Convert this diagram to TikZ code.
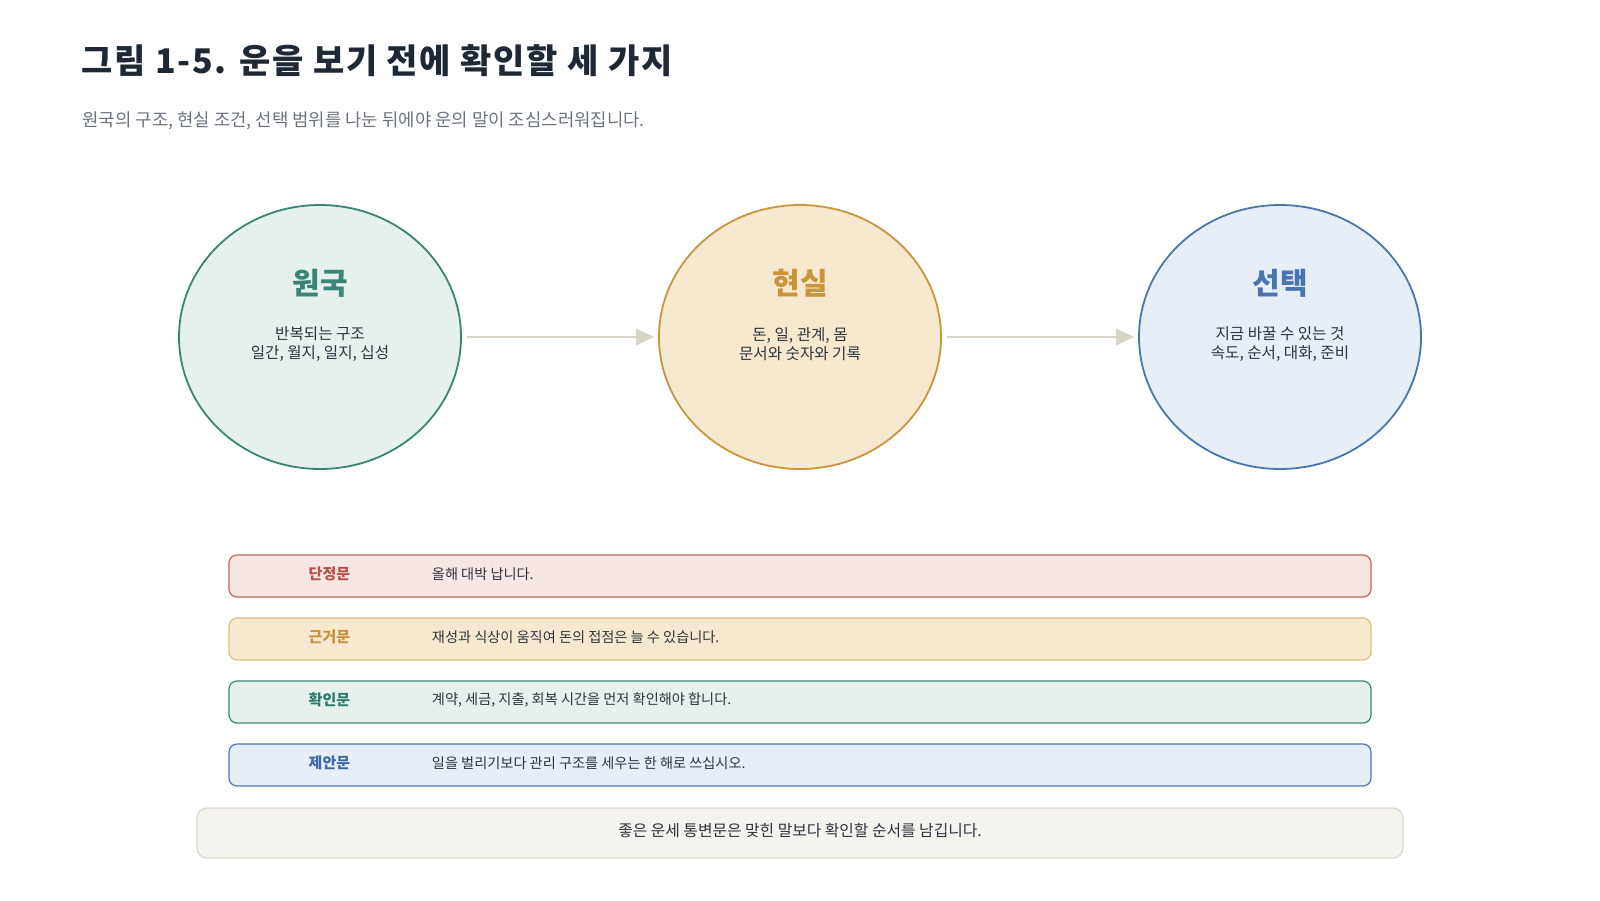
\documentclass[tikz,border=0pt]{standalone}
\usepackage{fontspec}
\setmainfont{Noto Sans CJK KR}
\usetikzlibrary{shapes.geometric,arrows.meta}
\definecolor{ink}{HTML}{2E3540}
\definecolor{headink}{HTML}{1F2935}
\definecolor{subink}{HTML}{6B7380}
\definecolor{arrowgray}{HTML}{D9D2C6}
\definecolor{lngreen}{HTML}{3B8478}
\definecolor{flgreen}{HTML}{E6F0EC}
\definecolor{txgreen}{HTML}{2F7A6E}
\definecolor{lngold}{HTML}{C9943A}
\definecolor{flgold}{HTML}{F6E9D0}
\definecolor{txgold}{HTML}{C8913A}
\definecolor{lnblue}{HTML}{4A76B0}
\definecolor{flblue}{HTML}{E8EEF7}
\definecolor{txblue}{HTML}{3C6AA8}
\definecolor{lnred}{HTML}{C0675C}
\definecolor{flred}{HTML}{F6E6E4}
\definecolor{txred}{HTML}{B5524A}
\definecolor{lnbargold}{HTML}{E2BD7E}
\definecolor{lnnote}{HTML}{DDD7CB}
\definecolor{flnote}{HTML}{F5F3EE}

\begin{document}
\begin{tikzpicture}[x=1pt,y=-1pt,
  bubble/.style={ellipse,minimum width=282pt,minimum height=264pt,inner sep=0pt,line width=1.8pt},
  bubhead/.style={font=\fontsize{30pt}{34pt}\selectfont\bfseries},
  bubnote/.style={align=center,text=ink,font=\fontsize{15.6pt}{19pt}\selectfont},
  flow/.style={draw=arrowgray,line width=1.2pt,-{Triangle[length=18pt,width=16.5pt]},shorten <=5pt,shorten >=4pt},
  stmt/.style={rectangle,rounded corners=8pt,minimum width=1142pt,minimum height=42pt,line width=1.2pt,inner sep=0pt},
  stmtlab/.style={font=\fontsize{15pt}{18pt}\selectfont\bfseries},
  stmttxt/.style={anchor=west,text=ink,font=\fontsize{14.2pt}{17pt}\selectfont},
  ]
\useasboundingbox (0,0) rectangle (1600,900);
\node[anchor=west,text=headink,font=\fontsize{34pt}{40pt}\selectfont\bfseries\addfontfeature{LetterSpace=5}] (title) at (78,61) {그림 1-5. 운을 보기 전에 확인할 세 가지};
\node[anchor=west,text=subink,font=\fontsize{17.8pt}{21pt}\selectfont] (sub) at (79,121) {원국의 구조, 현실 조건, 선택 범위를 나눈 뒤에야 운의 말이 조심스러워집니다.};

\node[bubble,draw=lngreen,fill=flgreen] (won) at (320,337) {};
\node[bubble,draw=lngold,fill=flgold] (hyun) at (800,337) {};
\node[bubble,draw=lnblue,fill=flblue] (sun) at (1280,337) {};
\node[bubhead,text=lngreen] (won-h) at ([yshift=54pt]won.center) {원국};
\node[bubhead,text=lngold] (hyun-h) at ([yshift=54pt]hyun.center) {현실};
\node[bubhead,text=lnblue] (sun-h) at ([yshift=54pt]sun.center) {선택};
\node[bubnote] (won-n) at ([yshift=-7pt]won.center) {반복되는 구조\\일간, 월지, 일지, 십성};
\node[bubnote] (hyun-n) at ([yshift=-7pt]hyun.center) {돈, 일, 관계, 몸\\문서와 숫자와 기록};
\node[bubnote] (sun-n) at ([yshift=-7pt]sun.center) {지금 바꿀 수 있는 것\\속도, 순서, 대화, 준비};
\draw[flow] (won) -- (hyun);
\draw[flow] (hyun) -- (sun);

\foreach \k/\y/\lab/\txt/\col/\edge in {1/576/단정문/{올해 대박 납니다.}/red/lnred,
    2/639/근거문/{재성과 식상이 움직여 돈의 접점은 늘 수 있습니다.}/gold/lnbargold,
    3/702/확인문/{계약, 세금, 지출, 회복 시간을 먼저 확인해야 합니다.}/green/lngreen,
    4/765/제안문/{일을 벌리기보다 관리 구조를 세우는 한 해로 쓰십시오.}/blue/lnblue} {
  \node[stmt,draw=\edge,fill=fl\col] (s\k) at (800,\y) {};
  \node[stmtlab,text=tx\col] (s\k-l) at ([xshift=101pt,yshift=2pt]s\k.west) {\lab};
  \node[stmttxt] (s\k-t) at ([xshift=200pt,yshift=2pt]s\k.west) {\txt};
}

\node[rectangle,rounded corners=10pt,minimum width=1206pt,minimum height=50pt,line width=1.2pt,draw=lnnote,fill=flnote] (sum) at (800,833) {};
\node[text=ink,font=\fontsize{15.8pt}{19pt}\selectfont] (sum-t) at ([yshift=2pt]sum.center) {좋은 운세 통변문은 맞힌 말보다 확인할 순서를 남깁니다.};
\end{tikzpicture}
\end{document}
